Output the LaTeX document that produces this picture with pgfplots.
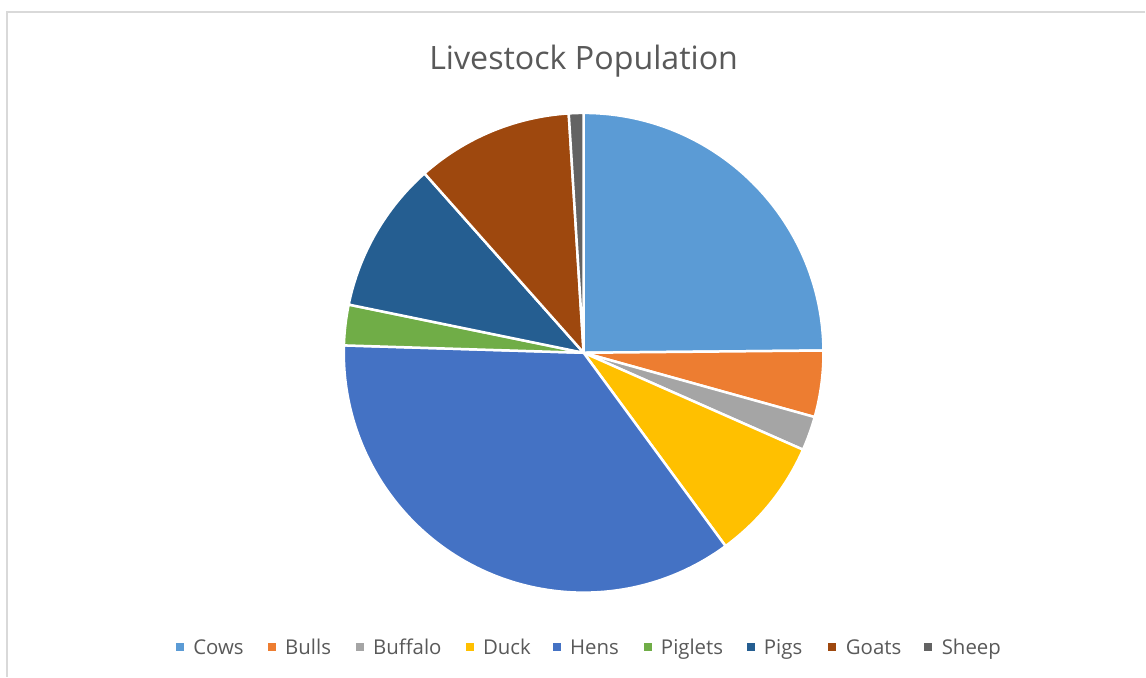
\documentclass[border=0pt]{standalone}
\usepackage{pgfplots}
\usepackage{pgfplotstable}
\pgfplotsset{compat=1.18}
\usepackage{fontspec}
\setmainfont{Open Sans}
\definecolor{cCows}{HTML}{5B9BD5}
\definecolor{cBulls}{HTML}{ED7D31}
\definecolor{cBuffalo}{HTML}{A5A5A5}
\definecolor{cDuck}{HTML}{FFC000}
\definecolor{cHens}{HTML}{4472C4}
\definecolor{cPiglets}{HTML}{70AD47}
\definecolor{cPigs}{HTML}{255E91}
\definecolor{cGoats}{HTML}{9E480E}
\definecolor{cSheep}{HTML}{636363}
\definecolor{txtgray}{HTML}{595959}
\definecolor{framegray}{HTML}{D9D9D9}

\pgfplotstableread{
name value
Cows 24.85
Bulls 4.47
Buffalo 2.30
Duck 8.30
Hens 35.57
Piglets 2.73
Pigs 10.23
Goats 10.56
Sheep 0.99
}\datatable

\def\cum{90}
\pgfplotstableforeachcolumnelement{value}\of\datatable\as\v{%
  \pgfmathsetmacro\endang{\cum - 3.6*\v}%
  \expandafter\xdef\csname sa\pgfplotstablerow\endcsname{\cum}%
  \expandafter\xdef\csname ea\pgfplotstablerow\endcsname{\endang}%
  \xdef\cum{\endang}%
}

\newcommand\slice[2]{%
  \fill[#2, draw=white, line width=1.25pt, line join=round]
    (axis cs:584,353) -- ++(\csname sa#1\endcsname:120pt)
    arc[start angle=\csname sa#1\endcsname, end angle=\csname ea#1\endcsname, radius=120pt] -- cycle;}

\newcommand\legitem[3]{%
  \fill[#2] (axis cs:#1,643) rectangle (axis cs:#1+8,651);
  \node[anchor=base west, inner sep=0pt, font=\fontsize{10.2}{12}\selectfont, text=txtgray] at (axis cs:#1+17,655) {#3};}

\begin{document}
\begin{tikzpicture}
\begin{axis}[x=0.5pt, y=0.5pt, xmin=0, xmax=1146, ymin=0, ymax=677, y dir=reverse,
  hide axis, scale only axis, clip=false]
\path (axis cs:0,0) rectangle (axis cs:1146,677);
\draw[framegray, line width=0.75pt] (axis cs:1146,12) -- (axis cs:7,12) -- (axis cs:7,677);
\node[anchor=base, inner sep=0pt, font=\fontsize{16.1}{19}\selectfont, text=txtgray] at (axis cs:584,70) {Livestock Population};
\slice{0}{cCows}
\slice{1}{cBulls}
\slice{2}{cBuffalo}
\slice{3}{cDuck}
\slice{4}{cHens}
\slice{5}{cPiglets}
\slice{6}{cPigs}
\slice{7}{cGoats}
\slice{8}{cSheep}
\legitem{176}{cCows}{Cows}
\legitem{268}{cBulls}{Bulls}
\legitem{356}{cBuffalo}{Buffalo}
\legitem{466}{cDuck}{Duck}
\legitem{553}{cHens}{Hens}
\legitem{644}{cPiglets}{Piglets}
\legitem{747}{cPigs}{Pigs}
\legitem{829}{cGoats}{Goats}
\legitem{925}{cSheep}{Sheep}
\end{axis}
\end{tikzpicture}
\end{document}
